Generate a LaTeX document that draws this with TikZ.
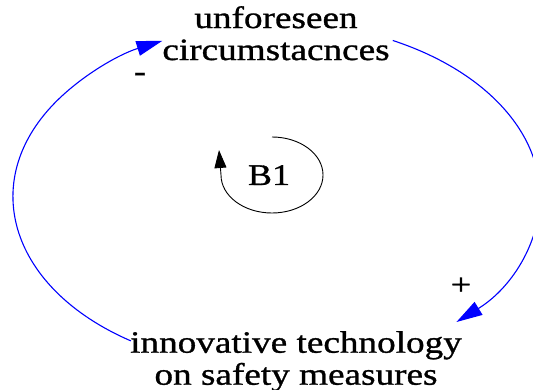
\documentclass[tikz,border=0pt]{standalone}
\usepackage{fontspec}
\setmainfont[FakeStretch=1.2,FakeBold=1]{Liberation Serif}
\usetikzlibrary{arrows.meta}
\begin{document}
\begin{tikzpicture}[x=1pt,y=-1pt,
  lbl/.style={font=\fontsize{31}{32}\selectfont, inner sep=0pt, align=center, text=black},
  sgn/.style={font=\fontsize{30}{32}\selectfont, inner sep=0pt, text=black},
  link/.style={draw=blue, line width=1.1pt, -{Triangle[length=26pt,width=15pt]}},
  loopline/.style={draw=black, line width=0.9pt, -{Triangle[length=18pt,width=12pt]}}]
\useasboundingbox (0,0) rectangle (533,390);
\clip (0,0) rectangle (533,390);
\node[lbl, anchor=north] (uc) at (276,6) {unforeseen\\circumstacnces};
\node[lbl, anchor=north] (it) at (296,331) {innovative technology\\on safety measures};
\node[sgn] (minus) at (140,77) {-};
\node[sgn] (plus) at (461,286) {+};
\node[sgn, anchor=base] (b1) at (269,185) {B1};
\coordinate (ucR) at (392.8,40.5);
\coordinate (itL) at (130.9,340.9);
\coordinate (loopTop) at (272,137);
\path[link] (ucR) arc[start angle=-63.2, end angle=46.5, x radius=268, y radius=174];
\path[link] (itL) arc[start angle=123, end angle=245, x radius=259, y radius=172];
\path[loopline] (loopTop) arc[start angle=-90, end angle=180, x radius=51, y radius=38] -- ++(-2,-25);
\end{tikzpicture}
\end{document}
